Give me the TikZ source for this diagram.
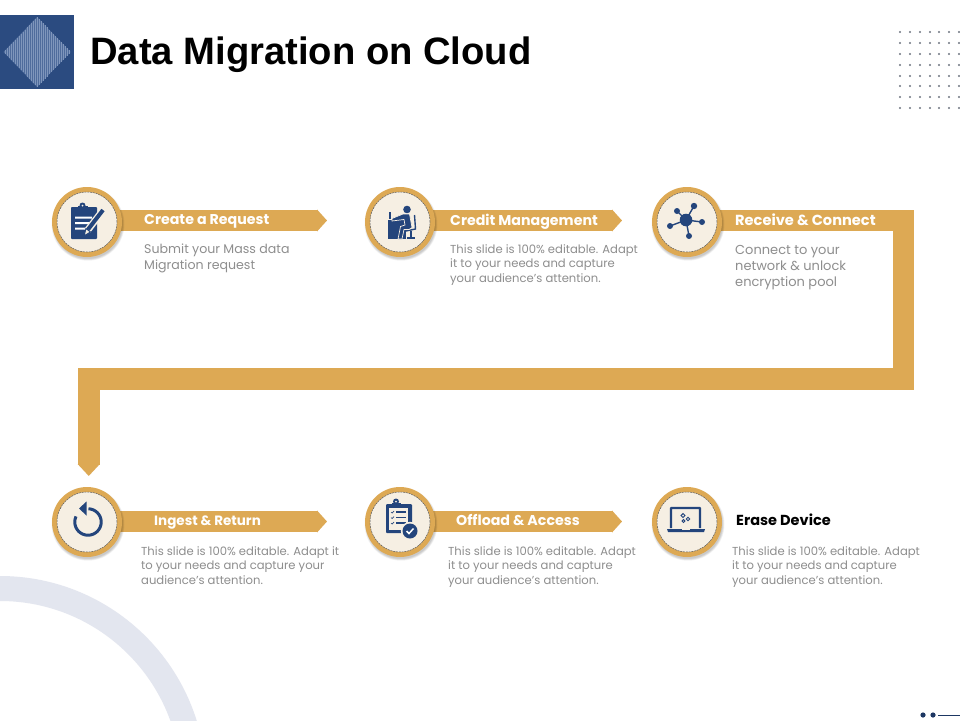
\documentclass[tikz,border=0pt]{standalone}
\usepackage{fontspec}
\setmainfont{Poppins}
\newfontfamily\titlefont{Liberation Sans}[Scale=1]
\usetikzlibrary{arrows.meta}
\definecolor{gold}{HTML}{DDA954}
\definecolor{navy}{HTML}{24457C}
\definecolor{cream}{HTML}{F6EFE3}
\definecolor{squareblue}{HTML}{2B4B80}
\definecolor{stripe}{HTML}{7F96BC}
\definecolor{diamondfill}{HTML}{4F6C9C}
\definecolor{arcgray}{HTML}{E3E6EF}
\definecolor{bodygray}{HTML}{8E8E8E}
\definecolor{dotgray}{HTML}{6E7480}
\tikzset{
  x=1pt,y=-1pt,
  flowline/.style={draw=gold,line width=21.5pt,line join=miter},
  bannerline/.style={flowline,-{Triangle[width=21.5pt,length=10pt,color=gold]}},
  stepring/.style={circle,fill=gold,minimum size=70pt,inner sep=0pt},
  stepdisc/.style={circle,fill=cream,draw=black!65,dashed,dash pattern=on 2pt off .8pt,line width=.5pt,minimum size=60pt,inner sep=0pt},
  headlabel/.style={anchor=base west,inner sep=0pt,text=white,font=\fontsize{14.2}{16}\selectfont\bfseries},
  bodybig/.style={anchor=north west,inner sep=0pt,align=left,text=bodygray},
  bodysmall/.style={anchor=north west,inner sep=0pt,align=left,text=bodygray,font=\fontsize{11.6}{14.6}\selectfont},
}
\begin{document}
\begin{tikzpicture}
\useasboundingbox (0,0) rectangle (960,720);
\fill[white] (0,0) rectangle (960,720);
\begin{scope}
\clip (0,0) rectangle (960,720);
\fill[arcgray,even odd rule] (0,782) circle[radius=206] (0,782) circle[radius=181];
\end{scope}
% header square
\fill[squareblue] (0,15) rectangle (74,89);
\fill[diamondfill] (3.5,52) -- (37,17) -- (70.5,52) -- (37,87) -- cycle;
\foreach \i in {0,...,32}{
  \pgfmathsetmacro{\xx}{5+2*\i}
  \pgfmathsetmacro{\hh}{35*(1-abs(\xx-37)/33.5)}
  \draw[stripe,line width=.9pt] (\xx,52-\hh) -- (\xx,52+\hh);
}
\node[anchor=base west,inner sep=0pt,font=\titlefont\fontsize{38.2}{42}\selectfont\bfseries] (title) at (90,64) {Data Migration on Cloud};
% dots
\foreach \yy in {32,43,54,65,76,86,97,108}{
  \foreach \xx in {900,910,920,930,939,949,959}{
    \fill[dotgray] (\xx,\yy) circle[radius=1.05];
  }
}
% footer mark
\fill[navy!80!black] (923,715) circle[radius=2.6] (933,715) circle[radius=2.6];
\draw[navy!80!black,line width=1pt] (938,715) -- (960,715);
% coordinates of the flow
\coordinate (s1) at (87,220.5);   \coordinate (e1) at (327,220.5);
\coordinate (s2) at (400,220.5);  \coordinate (e2) at (622,220.5);
\coordinate (s3) at (687,220.5);  \coordinate (k1) at (903.5,220.5);
\coordinate (k2) at (903.5,379);  \coordinate (k3) at (88.75,379);
\coordinate (e3) at (88.75,476);
\coordinate (s4) at (87,521.5);   \coordinate (e4) at (327,521.5);
\coordinate (s5) at (400,521.5);  \coordinate (e5) at (622,521.5);
% banners and main bar
\draw[bannerline] (s1) -- (e1);
\draw[bannerline] (s2) -- (e2);
\draw[flowline,-{Triangle[width=21.5pt,length=12pt,color=gold]}] (s3) -- (k1) -- (k2) -- (k3) -- (e3);
\draw[bannerline] (s4) -- (e4);
\draw[bannerline] (s5) -- (e5);
% circles with a soft shadow
\foreach \n/\cx/\cy in {c1/87/222,c2/400/222,c3/687/222,c4/87/522,c5/400/522,c6/687/522}{
  \foreach \rr in {34.5,35,35.5,36,36.5}{
    \fill[black,opacity=.045] (\cx+1,\cy+2.2) circle[radius=\rr];
  }
  \node[stepring] (\n) at (\cx,\cy) {};
  \node[stepdisc] (\n d) at (\cx,\cy) {};
}
% icon 1: clipboard and pen
\fill[navy,rounded corners=.8pt] (71,207) rectangle (97,239);
\fill[navy] (77.5,206) rectangle (87.5,210);
\fill[navy] (82.5,205.5) circle[radius=3];
\fill[cream] (82.5,205.5) circle[radius=1];
\fill[white] (75,216.5) rectangle (92,218.5) (75,222) rectangle (92,224) (75,227.5) rectangle (86,229.5);
\draw[cream,line width=7pt] (104,209) -- (87,231);
\draw[navy,line width=4pt] (103,210) -- (88,229.5);
\fill[cream,draw=navy,line width=1pt] (86,228.5) -- (90.5,232) -- (84,236) -- cycle;
% icon 2: person at desk
\fill[navy] (388,220) rectangle (406,239);
\draw[navy,line width=1.6pt] (390,212) -- (390,219);
\draw[navy,line width=1.4pt] (414.5,215) -- (415.5,229) -- (406,231);
\draw[navy,line width=1.2pt] (411,231) -- (411,237) (407,238) -- (415,238);
\fill[navy] (407,209.5) circle[radius=3.8];
\filldraw[fill=navy,draw=cream,line width=.7pt] (403,214) -- (409.5,214) -- (412,227.5) -- (409,229.5) -- (404,229.5) -- (402,239) -- (398,239) -- (400.5,226.5) -- (405,225) -- (404,219.5) -- (392,221) -- (392,218.5) -- cycle;
% icon 3: network
\draw[navy,line width=1.4pt] (686,220) -- (677,211) (686,220) -- (694,206) (686,220) -- (702,222) (686,220) -- (689,236) (686,220) -- (670,226);
\fill[navy] (686,220) circle[radius=6.3] (677,211) circle[radius=3] (694,206) circle[radius=3.2] (702,222) circle[radius=3] (689,236) circle[radius=3] (670,226) circle[radius=3];
% icon 4: return arrow
\draw[navy,line width=3pt] plot[domain=-88:205,samples=50] ({88+13.2*cos(\x)},{522+13.2*sin(\x)});
\fill[navy] (79,508.5) -- (86.5,501.5) -- (86.5,515.5) -- cycle;
% icon 5: checklist
\fill[navy,rounded corners=1pt] (386,504) rectangle (412,533);
\fill[navy] (391.5,503) rectangle (400.5,507.5);
\fill[navy] (396,501.5) circle[radius=3];
\fill[cream] (396,501.5) circle[radius=1];
\fill[cream] (389,508) rectangle (408,530);
\foreach \yy in {512,517.5,523}{
  \draw[navy,line width=.7pt] (391,\yy) -- (392,\yy+1) -- (394,\yy-1);
  \draw[navy,line width=1.1pt] (396,\yy) -- (406,\yy);
}
\fill[cream] (410,531) circle[radius=9.2];
\fill[navy] (410,531) circle[radius=7.5];
\draw[white,line width=1.5pt] (406.5,531) -- (409,533.5) -- (413.5,528.5);
% icon 6: laptop
\draw[navy,line width=2.3pt,rounded corners=.5pt] (671,528) -- (671,508) -- (700,508) -- (700,528);
\fill[navy] (667,529) -- (705,529) -- (704,532) -- (668,532) -- cycle;
\fill[cream] (682,529.2) rectangle (690,530.2);
\draw[navy,line width=.9pt] (683,515.5) circle[radius=1.9] (688,519) circle[radius=1.7] (683.5,521) circle[radius=1.4];
% head labels
\node[headlabel] (h1) at (144,224) {Create a Request};
\node[headlabel] (h2) at (450,225) {Credit Management};
\node[headlabel,font=\fontsize{14.6}{16}\selectfont\bfseries] (h3) at (735,225) {Receive \& Connect};
\node[headlabel,font=\fontsize{13.5}{16}\selectfont\bfseries] (h4) at (154,525) {Ingest \& Return};
\node[headlabel] (h5) at (456,525) {Offload \& Access};
\node[headlabel,text=black,font=\fontsize{14.5}{16}\selectfont\bfseries] (h6) at (736,525) {Erase Device};
% body
\node[bodybig,font=\fontsize{12.6}{16}\selectfont] (b1) at (144,243.5) {Submit your Mass data\\Migration request};
\node[bodysmall] (b2) at (450,244) {This slide is 100\% editable. Adapt\\it to your needs and capture\\your audience's attention.};
\node[bodybig,font=\fontsize{13}{16}\selectfont] (b3) at (735,245) {Connect to your\\network \& unlock\\encryption pool};
\node[bodysmall] (b4) at (141,546) {This slide is 100\% editable. Adapt it\\to your needs and capture your\\audience's attention.};
\node[bodysmall] (b5) at (448,546) {This slide is 100\% editable. Adapt\\it to your needs and capture\\your audience's attention.};
\node[bodysmall] (b6) at (732,546) {This slide is 100\% editable. Adapt\\it to your needs and capture\\your audience's attention.};
\end{tikzpicture}
\end{document}
